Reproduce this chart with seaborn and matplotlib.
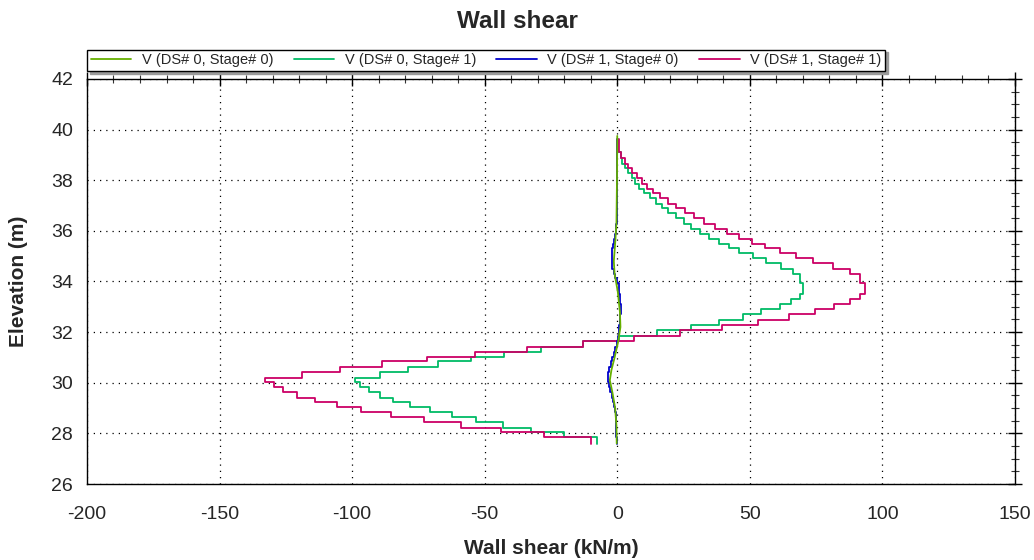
import numpy as np
import pandas as pd
import matplotlib
matplotlib.use("Agg")
import matplotlib.pyplot as plt
from matplotlib.ticker import MultipleLocator
import seaborn as sns

# ---- data -------------------------------------------------------------
# element boundary elevations (m), top to bottom
elev_nodes = [39.64, 39.12, 38.86, 38.66, 38.49, 38.27, 38.07, 37.87, 37.67, 37.49,
              37.29, 37.08, 36.90, 36.69, 36.49, 36.29, 36.07, 35.87, 35.68, 35.50,
              35.31, 35.12, 34.92, 34.72, 34.51, 34.29, 34.12, 33.93, 33.52, 33.32,
              33.10, 32.91, 32.70, 32.49, 32.29, 32.10, 31.86, 31.63, 31.43, 31.21,
              31.02, 30.84, 30.63, 30.42, 30.20, 30.03, 29.84, 29.63, 29.41, 29.22,
              29.05, 28.83, 28.63, 28.44, 28.21, 28.05, 27.85, 27.59]

# shear per element (kN/m)
v_ds0_st1 = [0.4, 1.3, 1.9, 2.9, 4.2, 5.4, 6.7, 8.2, 10.1, 12.2,
             14.5, 17.0, 19.3, 22.1, 25.2, 28.0, 31.1, 34.7, 38.5, 42.2,
             46.0, 51.1, 56.1, 61.8, 66.2, 69.0, 69.0, 70.2, 69.0, 65.6,
             61.2, 54.2, 47.3, 38.5, 27.7, 15.1, 0.5, -13.1, -28.8, -42.8,
             -55.3, -67.5, -78.8, -89.4, -98.8, -96.9, -93.7, -89.4, -84.4, -78.1,
             -70.6, -62.5, -53.4, -43.1, -32.5, -20.0, -7.7]

v_ds1_st1 = [0.6, 1.6, 2.8, 4.0, 5.7, 7.3, 9.2, 11.3, 13.6, 16.1,
             19.3, 22.1, 25.6, 29.0, 32.8, 36.9, 41.4, 46.0, 50.8, 55.9,
             61.2, 67.5, 73.8, 81.3, 87.6, 91.4, 91.6, 93.3, 91.4, 87.7,
             81.7, 74.6, 64.6, 53.0, 39.4, 23.8, 6.2, -13.1, -34.0, -53.7,
             -71.9, -88.8, -104.4, -119.0, -132.8, -129.6, -125.9, -120.9, -113.9, -105.8,
             -96.5, -85.5, -73.0, -59.0, -44.0, -27.5, -10.0]

v_ds1_st0 = [0.0, 0.0, 0.0, -0.1, -0.1, -0.1, -0.1, -0.1, -0.1, -0.1,
             -0.1, -0.1, -0.2, -0.2, -0.2, -0.3, -0.5, -0.8, -1.2, -1.5,
             -1.8, -2.0, -2.0, -1.8, -1.3, -0.8, -0.2, 0.5, 1.0, 1.2,
             1.3, 1.3, 1.2, 1.0, 0.8, 0.5, 0.3, -0.2, -0.7, -1.2,
             -1.8, -2.4, -3.0, -3.4, -3.6, -3.2, -2.6, -2.1, -1.6, -1.2,
             -0.9, -0.6, -0.5, -0.4, -0.3, -0.3, -0.2]

# DS# 0, Stage# 0 is drawn as a smooth polyline
elev_ds0_st0 = [39.75, 38.0, 36.3, 35.5, 34.8, 34.3, 33.6, 32.8, 32.2, 31.6,
                31.0, 30.5, 30.1, 29.6, 29.0, 28.3, 27.6]
v_ds0_st0 = [0.0, -0.1, -0.3, -0.8, -1.3, -1.0, 0.2, 1.0, 1.2, 0.3,
             -1.0, -2.2, -2.8, -1.8, -0.8, -0.3, -0.2]

series_names = ["V (DS# 0, Stage# 0)", "V (DS# 0, Stage# 1)",
                "V (DS# 1, Stage# 0)", "V (DS# 1, Stage# 1)"]
colors = ["#66B000", "#00BB66", "#0000CC", "#CC0066"]

x_ticks = [-200, -150, -100, -50, 0, 50, 100, 150]
y_ticks = [26, 28, 30, 32, 34, 36, 38, 40, 42]


def step_path(nodes, vals):
    xs, ys = [], []
    for i, v in enumerate(vals):
        xs += [v, v]
        ys += [nodes[i], nodes[i + 1]]
    return xs, ys


frames = []
frames.append(pd.DataFrame({"V": v_ds0_st0, "Elev": elev_ds0_st0,
                            "series": series_names[0]}))
for name, vals in [(series_names[1], v_ds0_st1), (series_names[2], v_ds1_st0),
                   (series_names[3], v_ds1_st1)]:
    xs, ys = step_path(elev_nodes, vals)
    frames.append(pd.DataFrame({"V": xs, "Elev": ys, "series": name}))
df = pd.concat(frames, ignore_index=True)

# ---- figure -----------------------------------------------------------
sns.set_style("white")
plt.rcParams["font.family"] = ["Liberation Sans", "DejaVu Sans"]

fig = plt.figure(figsize=(10.34, 5.6), dpi=100)
ax = fig.add_axes([0.0841, 0.1357, 0.9816 - 0.0841, 0.859 - 0.1357])

draw_order = [series_names[1], series_names[3], series_names[2], series_names[0]]
pal = dict(zip(series_names, colors))
for name in draw_order:
    sub = df[df["series"] == name]
    sns.lineplot(data=sub, x="V", y="Elev", sort=False, estimator=None,
                 color=pal[name], linewidth=1.3, ax=ax, legend=False)

ax.set_xlim(-200, 150)
ax.set_ylim(26, 42)
ax.set_xticks(x_ticks)
ax.set_yticks(y_ticks)
ax.set_xticklabels([str(t) for t in x_ticks])
ax.set_yticklabels([str(t) for t in y_ticks])
ax.xaxis.set_minor_locator(MultipleLocator(10))
ax.yaxis.set_minor_locator(MultipleLocator(0.5))
ax.tick_params(which="major", direction="inout", length=10, width=1, labelsize=14,
               top=True, right=True, color="black")
ax.tick_params(axis="x", which="major", pad=11)
ax.tick_params(axis="y", which="major", pad=5)
ax.tick_params(which="minor", direction="inout", length=6, width=0.8,
               top=True, right=True, color="#333333")
ax.grid(True, which="major", linestyle=(0, (1, 4)), color="black", linewidth=0.9)
for s in ax.spines.values():
    s.set_color("black")
    s.set_linewidth(1.0)

ax.set_xlabel("Wall shear (kN/m)", fontsize=15, fontweight="bold", labelpad=11)
ax.set_ylabel("Elevation (m)", fontsize=15, fontweight="bold", labelpad=17)
fig.suptitle("Wall shear", fontsize=17.5, fontweight="bold", y=0.962, va="center")

handles = [plt.Line2D([], [], color=c, linewidth=1.3) for c in colors]
leg = ax.legend(handles, series_names, loc="lower left", bbox_to_anchor=(0.0, 1.02),
                ncol=4, fontsize=10.5, frameon=True, fancybox=False,
                shadow={"color": "#9a9a9a", "alpha": 1.0},
                handlelength=2.8, handletextpad=0.7, columnspacing=1.4,
                borderpad=0.25, borderaxespad=0.0)
leg.get_frame().set_edgecolor("black")
leg.get_frame().set_linewidth(1.0)

fig.savefig("out.png", dpi=100)
